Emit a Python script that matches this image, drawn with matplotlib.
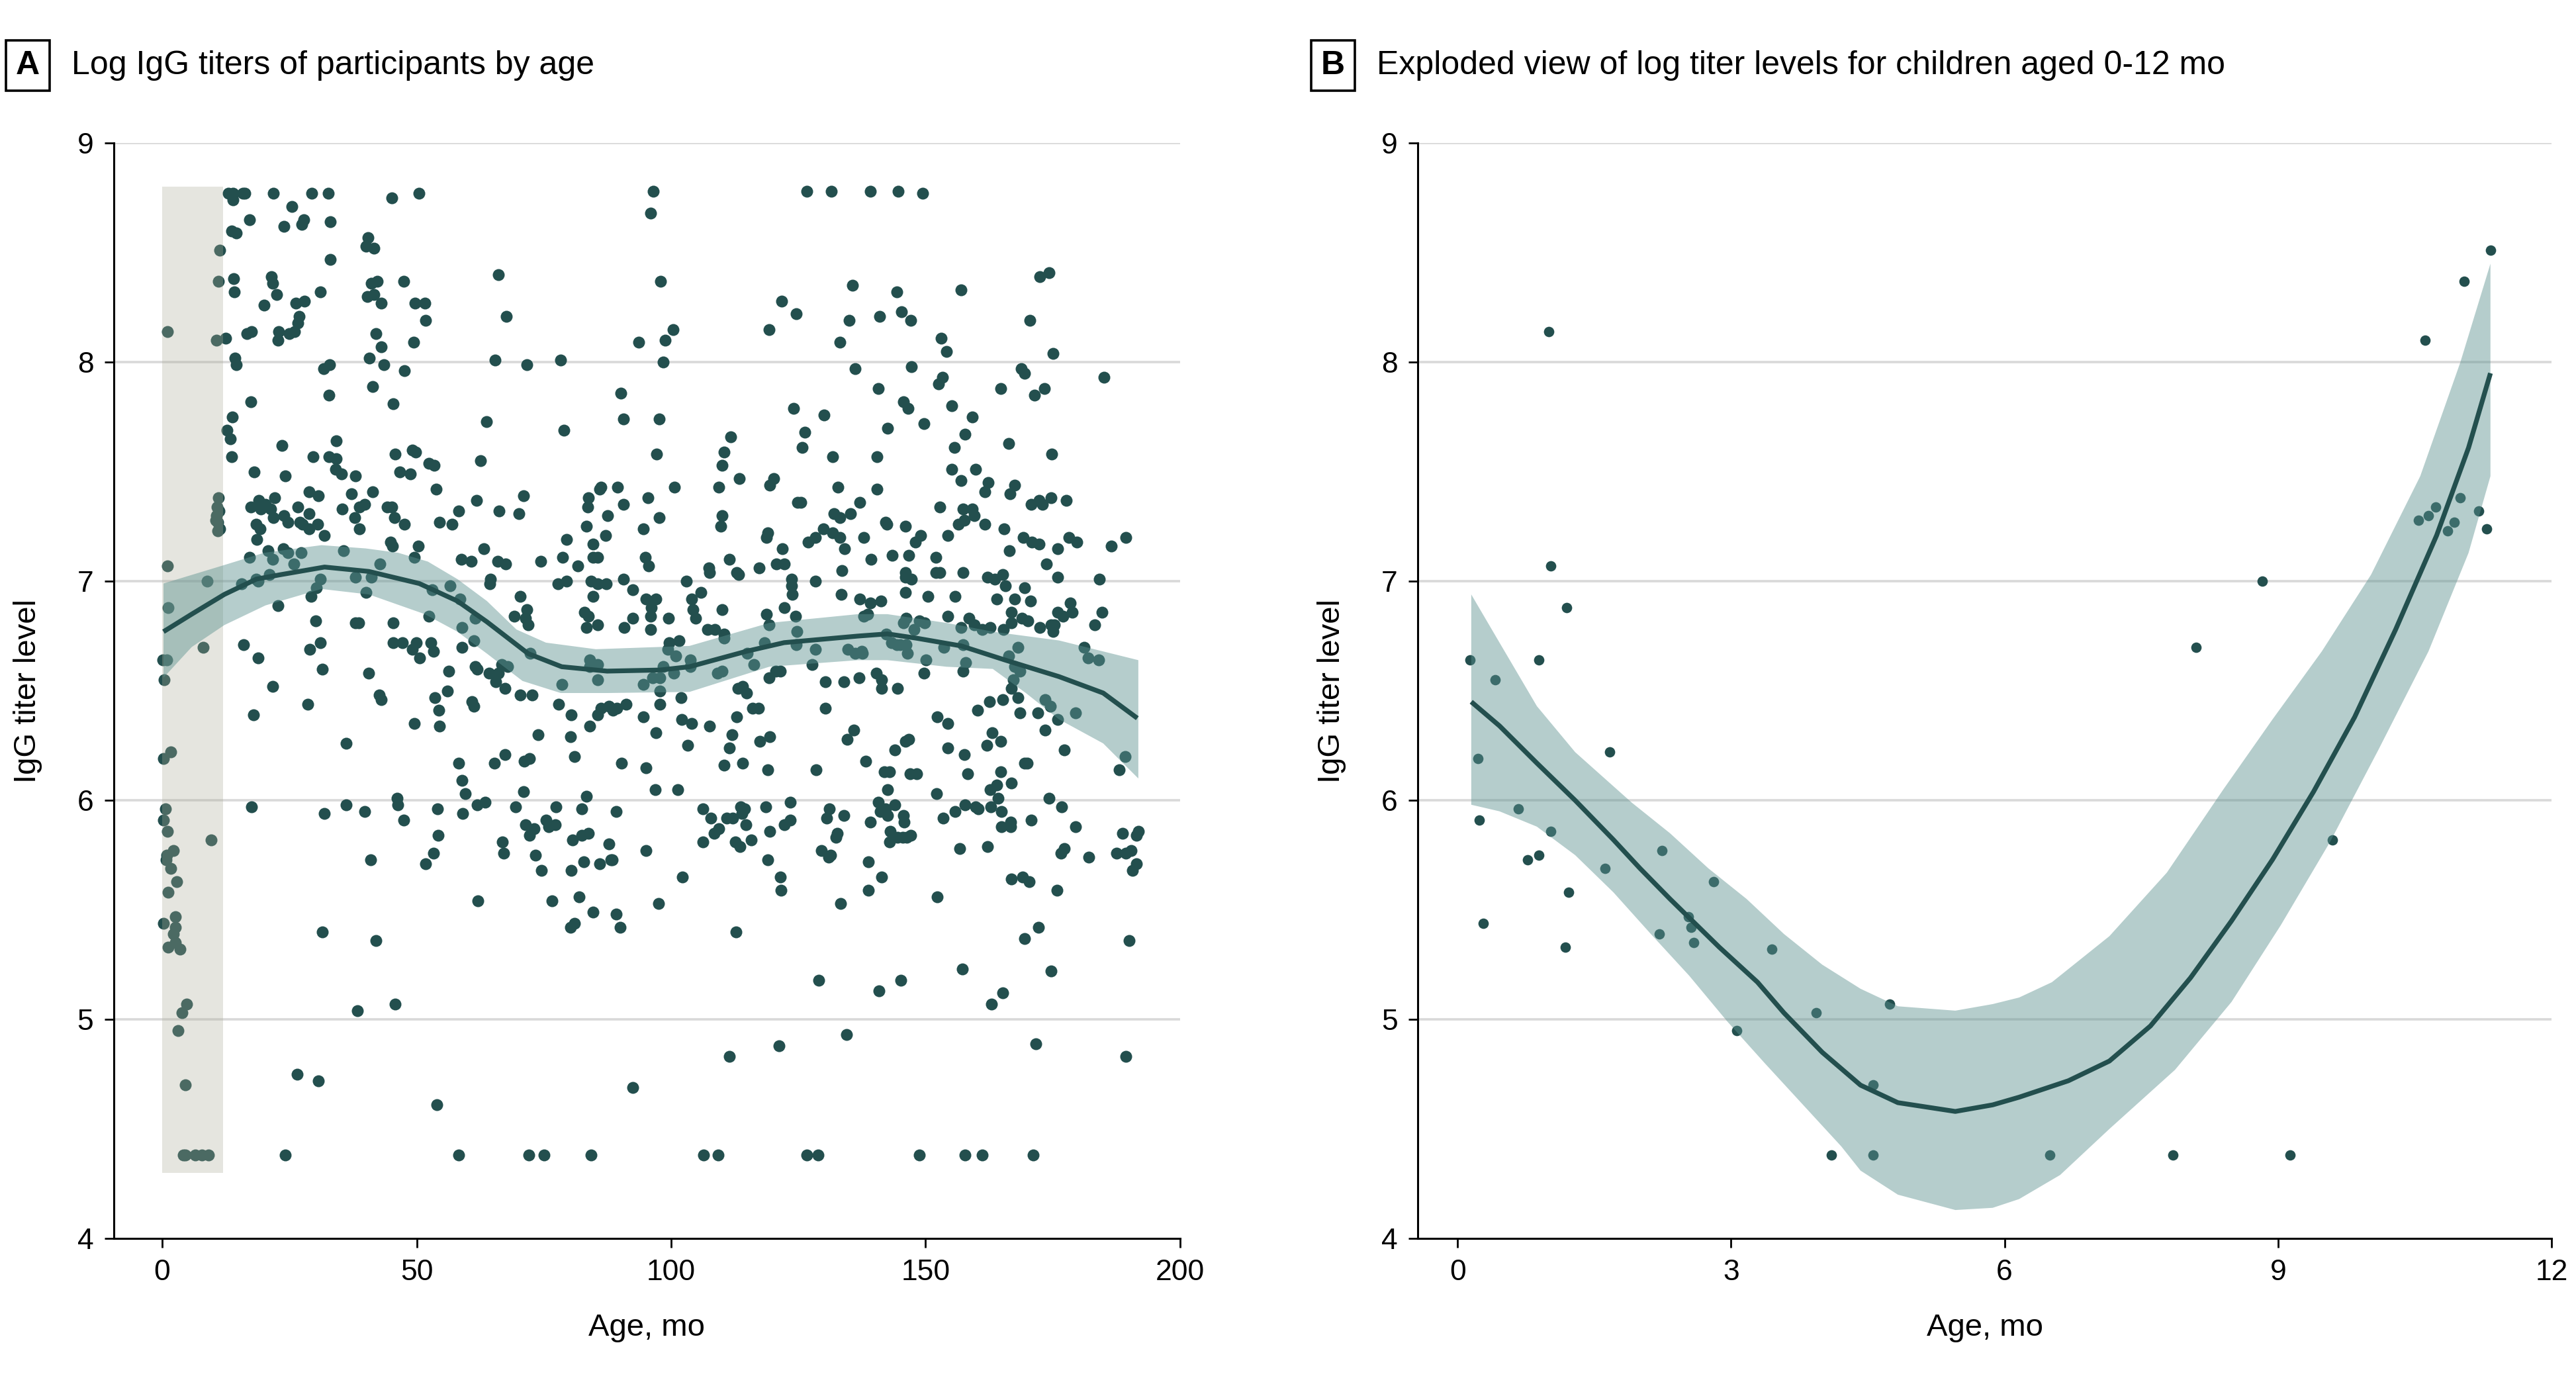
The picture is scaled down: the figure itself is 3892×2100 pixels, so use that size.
import numpy as np
import matplotlib
matplotlib.use('Agg')
import matplotlib.pyplot as plt

plt.rcParams['font.family'] = ['Liberation Sans Narrow', 'Liberation Sans', 'DejaVu Sans']

DOT = '#234f4e'
RIBBON = '#5b918f'
BAND = '#aaaa96'
GRID = '#d9d9d9'

# infants 0-12 mo (panel B, also the shaded strip of panel A)
infant_age = [0.14, 0.22, 0.24, 0.28, 0.41, 0.67, 0.77, 0.89, 0.89, 1.0, 1.02, 1.02,
              1.2, 1.22, 1.18, 1.62, 1.67, 2.24, 2.21, 2.53, 2.56, 2.59, 2.81, 3.06,
              3.45, 3.93, 4.1, 4.56, 4.56, 4.74, 6.5, 7.85, 8.1, 8.83, 9.13, 9.6,
              10.54, 10.61, 10.65, 10.73, 10.86, 10.93, 11.0, 11.04, 11.2, 11.29, 11.33]
infant_titer = [6.64, 6.19, 5.91, 5.44, 6.55, 5.96, 5.73, 6.64, 5.75, 8.14, 7.07, 5.86,
                6.88, 5.58, 5.33, 5.69, 6.22, 5.77, 5.39, 5.47, 5.42, 5.35, 5.63, 4.95,
                5.32, 5.03, 4.38, 4.70, 4.38, 5.07, 4.38, 4.38, 6.70, 7.00, 4.38, 5.82,
                7.28, 8.10, 7.30, 7.34, 7.23, 7.27, 7.38, 8.37, 7.32, 7.24, 8.51]

# older children, 12-85 mo, upper half
young_hi_age = [12.5, 13.0, 13.9, 15.9, 16.2, 21.8, 29.4, 32.6, 50.4, 13.9, 45.1, 25.5,
                17.1, 23.9, 27.4, 27.8, 33.0, 13.65, 14.5, 40.4, 40.0, 41.6, 33.0, 66.1,
                14.0, 14.2, 21.4, 21.7, 22.5, 20.0, 26.3, 27.9, 31.1, 41.1, 42.2, 40.3,
                41.6, 43.1, 47.4, 49.7, 51.6, 51.7, 67.6, 26.9, 26.7, 26.0, 24.9, 16.7,
                17.5, 22.9, 22.7, 42.0, 43.0, 49.4, 14.35, 14.6, 40.7, 43.6, 31.7, 32.9,
                47.6, 65.4, 71.7, 78.3, 41.35, 32.8, 45.4, 17.4, 13.8, 12.8, 13.4, 13.65,
                63.75, 78.9, 23.5, 34.2, 29.6, 32.75, 34.2, 34.0, 35.25, 38.0, 45.8, 49.1,
                49.8, 46.7, 48.8, 52.4, 53.4, 62.5, 18.1, 24.2, 37.2, 41.4, 53.8, 28.9,
                30.7, 17.4, 19.0, 19.4, 20.3, 21.3, 22.1, 26.7, 35.3, 38.7, 39.8, 44.2,
                45.1, 45.6, 61.8, 70.95, 83.8, 21.8, 23.9, 24.7, 28.9, 27.1, 27.6, 30.55,
                28.9, 18.5, 19.2, 18.6, 31.8, 37.9, 38.7, 47.6, 54.5, 56.9, 58.2, 66.25,
                70.1, 83.4, 44.8, 45.2, 50.35, 49.6, 63.2, 79.4, 17.1, 20.85, 21.7, 23.75,
                24.7, 27.3, 25.85, 35.65, 42.8, 58.8, 60.7, 65.9, 67.5, 74.4, 78.7, 81.7,
                83.6, 84.6, 84.6]
young_hi_titer = [8.11, 8.77, 8.77, 8.77, 8.77, 8.77, 8.77, 8.77, 8.77, 8.74, 8.75, 8.71,
                  8.65, 8.62, 8.63, 8.65, 8.64, 8.60, 8.59, 8.57, 8.53, 8.52, 8.47, 8.40,
                  8.38, 8.32, 8.39, 8.36, 8.31, 8.26, 8.27, 8.28, 8.32, 8.36, 8.37, 8.30,
                  8.31, 8.27, 8.37, 8.27, 8.27, 8.19, 8.21, 8.21, 8.18, 8.14, 8.13, 8.13,
                  8.14, 8.14, 8.10, 8.13, 8.07, 8.09, 8.02, 7.99, 8.02, 7.99, 7.97, 7.99,
                  7.96, 8.01, 7.99, 8.01, 7.89, 7.85, 7.81, 7.82, 7.75, 7.69, 7.65, 7.57,
                  7.73, 7.69, 7.62, 7.64, 7.57, 7.57, 7.56, 7.51, 7.49, 7.48, 7.58, 7.60,
                  7.59, 7.50, 7.49, 7.54, 7.53, 7.55, 7.50, 7.48, 7.40, 7.41, 7.42, 7.41,
                  7.39, 7.34, 7.37, 7.33, 7.35, 7.33, 7.38, 7.34, 7.33, 7.34, 7.35, 7.34,
                  7.34, 7.29, 7.37, 7.39, 7.38, 7.29, 7.30, 7.27, 7.31, 7.27, 7.26, 7.26,
                  7.24, 7.26, 7.24, 7.19, 7.21, 7.29, 7.24, 7.26, 7.27, 7.26, 7.32, 7.32,
                  7.31, 7.25, 7.18, 7.16, 7.16, 7.11, 7.15, 7.19, 7.11, 7.14, 7.10, 7.15,
                  7.13, 7.13, 7.08, 7.14, 7.08, 7.10, 7.09, 7.09, 7.08, 7.09, 7.11, 7.07,
                  7.34, 7.17, 7.11]

# older children, 12-85 mo, lower half
young_lo_age = [15.6, 18.4, 18.9, 21.1, 22.8, 31.1, 30.3, 29.3, 30.2, 38.0, 38.6, 38.0,
                41.1, 40.1, 53.1, 56.5, 58.5, 52.4, 58.9, 61.5, 58.9, 61.3, 64.5, 64.4,
                70.4, 71.7, 71.4, 71.9, 69.2, 72.3, 77.7, 79.5, 83.0, 83.8, 83.3, 84.2,
                84.6, 45.35, 16.0, 18.8, 21.7, 29.0, 31.1, 31.4, 28.6, 17.9, 40.6, 42.7,
                43.0, 45.35, 47.15, 49.2, 49.9, 50.6, 52.8, 53.25, 56.3, 56.1, 53.6, 54.3,
                54.5, 49.5, 61.55, 61.9, 60.9, 61.3, 64.3, 65.55, 66.1, 66.7, 67.9, 67.3,
                70.4, 72.7, 77.9, 80.3, 78.6, 84.0, 84.0, 84.0, 73.8, 80.2, 81.0, 36.1,
                58.2, 58.9, 59.6, 65.3, 67.4, 71.1, 72.2, 70.95, 83.4, 17.5, 36.1, 31.8,
                39.8, 46.1, 46.3, 47.4, 54.1, 54.2, 59.05, 61.95, 63.4, 69.4, 71.4, 72.2,
                73.1, 75.4, 75.9, 77.3, 77.4, 82.4, 80.6, 82.4, 83.8, 66.8, 67.1, 53.3,
                51.7, 40.9, 73.4, 74.5, 80.3, 82.85, 62.0, 76.6, 81.9, 81.05, 80.2, 84.6,
                31.4, 42.0, 38.4, 45.75, 26.5, 30.7, 54.0]
young_lo_titer = [6.99, 7.01, 7.00, 7.03, 6.89, 7.01, 6.97, 6.93, 6.82, 6.81, 6.81, 7.02,
                  7.02, 6.95, 6.96, 6.98, 6.92, 6.84, 6.79, 6.83, 6.70, 6.73, 7.01, 6.99,
                  6.93, 6.87, 6.83, 6.80, 6.84, 6.67, 6.99, 7.00, 6.86, 6.84, 6.79, 7.00,
                  6.93, 6.81, 6.71, 6.65, 6.52, 6.69, 6.72, 6.60, 6.44, 6.39, 6.58, 6.48,
                  6.46, 6.72, 6.72, 6.69, 6.72, 6.65, 6.72, 6.68, 6.59, 6.50, 6.47, 6.41,
                  6.34, 6.35, 6.61, 6.60, 6.45, 6.43, 6.58, 6.54, 6.58, 6.62, 6.61, 6.51,
                  6.48, 6.48, 6.44, 6.39, 6.53, 6.64, 6.61, 6.34, 6.30, 6.29, 6.20, 6.26,
                  6.17, 6.09, 6.03, 6.17, 6.21, 6.18, 6.19, 6.04, 6.02, 5.97, 5.98, 5.94,
                  5.95, 6.01, 5.98, 5.91, 5.96, 5.84, 5.94, 5.98, 5.99, 5.97, 5.89, 5.84,
                  5.87, 5.91, 5.88, 5.89, 5.97, 5.96, 5.82, 5.84, 5.85, 5.81, 5.76, 5.76,
                  5.71, 5.73, 5.75, 5.68, 5.68, 5.72, 5.54, 5.54, 5.56, 5.44, 5.42, 5.49,
                  5.40, 5.36, 5.04, 5.07, 4.75, 4.72, 4.61]

# 85-170 mo, titer above 6
mid_hi_age = [96.5, 96.0, 126.7, 131.5, 139.2, 144.6, 149.4, 97.9, 135.6, 144.3, 121.7, 124.6,
              141.0, 145.3, 147.1, 157.0, 135.0, 119.2, 100.4, 98.8, 93.65, 133.2, 153.0, 154.1,
              98.5, 136.2, 147.2, 168.8, 169.5, 152.6, 153.3, 140.7, 164.8, 90.1, 145.7, 146.6,
              124.0, 90.7, 97.6, 130.1, 155.2, 159.2, 149.7, 142.5, 126.3, 111.7, 157.7, 97.1,
              110.4, 125.8, 166.3, 140.4, 131.7, 155.6, 110.0, 155.1, 159.8, 113.4, 120.1, 109.4,
              119.4, 100.6, 89.5, 86.2, 86.0, 132.8, 140.5, 157.0, 162.3, 161.6, 167.5, 166.6,
              90.7, 95.4, 87.55, 97.7, 152.8, 110.0, 109.8, 137.0, 124.8, 125.5, 157.3, 157.6,
              159.2, 159.6, 156.5, 132.0, 133.2, 135.2, 142.1, 142.4, 146.1, 161.6, 165.4, 94.6,
              87.15, 129.9, 131.7, 133.2, 137.9, 154.4, 149.0, 148.0, 118.7, 119.0, 128.3, 126.9,
              121.9, 111.5, 134.1, 166.4, 146.7, 139.3, 143.5, 152.0, 169.2, 85.6, 94.9, 95.6,
              107.35, 107.5, 112.9, 113.3, 117.3, 120.7, 122.3, 133.6, 146.1, 146.0, 147.2, 152.0,
              152.8, 157.4, 162.1, 85.6, 87.3, 92.4, 90.7, 103.0, 123.7, 123.7, 123.8, 128.4,
              133.4, 146.0, 150.5, 155.8, 163.6, 165.1, 164.0, 165.7, 167.5, 169.5, 137.1, 139.2,
              141.2, 104.0, 104.3, 104.8, 105.8, 85.5, 90.8, 92.4, 95.1, 96.1, 96.0, 96.0,
              97.0, 99.45, 110.0, 107.1, 108.6, 118.7, 119.2, 110.4, 110.4, 122.2, 124.5, 124.7,
              137.9, 138.6, 145.6, 146.2, 147.7, 148.8, 149.8, 154.3, 157.0, 158.5, 159.5, 161.1,
              162.7, 165.3, 166.8, 166.9, 168.9, 168.1, 99.6, 101.5, 118.3, 142.3, 143.3, 144.3,
              145.0, 146.2, 146.4, 134.7, 136.1, 137.4, 137.6, 153.6, 157.4, 157.85, 128.3, 124.6,
              85.6, 85.6, 99.3, 100.9, 98.5, 103.75, 103.75, 115.0, 116.3, 94.6, 96.3, 97.8,
              100.5, 97.8, 101.9, 109.1, 110.0, 120.5, 121.5, 119.3, 127.7, 166.3, 167.5, 167.2,
              168.6, 157.3, 150.1, 149.7, 140.3, 141.3, 141.4, 130.3, 133.9, 136.9, 144.5, 166.8,
              168.1, 168.5, 162.5, 165.1, 160.2, 97.8, 88.5, 89.4, 87.8, 91.2, 86.2, 85.5,
              90.2, 113.1, 114.1, 114.8, 112.9, 116.0, 117.2, 107.5, 102.1, 104.0, 94.6, 97.0,
              103.2, 101.3, 95.0, 96.9, 110.4, 111.9, 111.4, 114.1, 119.4, 117.4, 119.0, 130.3,
              128.5, 134.6, 135.9, 138.2, 144.0, 146.0, 146.7, 152.3, 154.4, 154.4, 157.6, 158.3,
              163.1, 162.0, 164.8, 169.4, 141.9, 142.9, 142.5, 146.9, 148.2, 164.8, 164.0, 162.7,
              166.9, 152.2]
mid_hi_titer = [8.78, 8.68, 8.78, 8.78, 8.78, 8.78, 8.77, 8.37, 8.35, 8.32, 8.28, 8.22,
                8.21, 8.23, 8.19, 8.33, 8.19, 8.15, 8.15, 8.10, 8.09, 8.09, 8.11, 8.05,
                8.00, 7.97, 7.98, 7.97, 7.95, 7.90, 7.93, 7.88, 7.88, 7.86, 7.82, 7.79,
                7.79, 7.74, 7.74, 7.76, 7.80, 7.75, 7.72, 7.70, 7.68, 7.66, 7.67, 7.58,
                7.59, 7.61, 7.63, 7.57, 7.57, 7.61, 7.53, 7.51, 7.51, 7.47, 7.47, 7.43,
                7.44, 7.43, 7.43, 7.43, 7.42, 7.43, 7.42, 7.46, 7.45, 7.41, 7.44, 7.40,
                7.35, 7.38, 7.30, 7.29, 7.34, 7.30, 7.25, 7.36, 7.36, 7.36, 7.33, 7.28,
                7.33, 7.30, 7.26, 7.31, 7.29, 7.31, 7.27, 7.26, 7.25, 7.26, 7.24, 7.24,
                7.21, 7.24, 7.22, 7.20, 7.20, 7.21, 7.21, 7.18, 7.20, 7.22, 7.20, 7.18,
                7.15, 7.10, 7.15, 7.14, 7.12, 7.10, 7.12, 7.11, 7.20, 7.11, 7.11, 7.07,
                7.06, 7.04, 7.04, 7.03, 7.06, 7.08, 7.08, 7.05, 7.04, 7.02, 7.01, 7.04,
                7.04, 7.04, 7.02, 6.99, 6.99, 6.96, 7.01, 7.00, 7.01, 6.98, 6.94, 7.00,
                6.94, 6.95, 6.93, 6.93, 7.01, 7.03, 6.92, 6.98, 6.92, 6.97, 6.92, 6.90,
                6.91, 6.92, 6.87, 6.83, 6.95, 6.80, 6.79, 6.83, 6.92, 6.88, 6.84, 6.78,
                6.92, 6.83, 6.87, 6.78, 6.78, 6.85, 6.80, 6.76, 6.74, 6.88, 6.84, 6.77,
                6.84, 6.85, 6.81, 6.83, 6.78, 6.82, 6.81, 6.84, 6.79, 6.83, 6.80, 6.78,
                6.79, 6.78, 6.81, 6.86, 6.83, 6.70, 6.72, 6.73, 6.72, 6.76, 6.72, 6.71,
                6.71, 6.71, 6.67, 6.69, 6.67, 6.68, 6.67, 6.70, 6.71, 6.63, 6.69, 6.71,
                6.62, 6.55, 6.69, 6.66, 6.61, 6.64, 6.61, 6.67, 6.62, 6.53, 6.56, 6.56,
                6.58, 6.50, 6.47, 6.58, 6.59, 6.59, 6.59, 6.56, 6.62, 6.66, 6.61, 6.55,
                6.59, 6.59, 6.64, 6.58, 6.58, 6.55, 6.51, 6.54, 6.54, 6.56, 6.51, 6.51,
                6.47, 6.40, 6.45, 6.46, 6.41, 6.44, 6.41, 6.42, 6.43, 6.44, 6.42, 6.39,
                6.17, 6.51, 6.52, 6.49, 6.38, 6.42, 6.42, 6.34, 6.37, 6.35, 6.38, 6.31,
                6.25, 6.05, 6.15, 6.05, 6.16, 6.30, 6.24, 6.17, 6.29, 6.27, 6.14, 6.42,
                6.14, 6.28, 6.32, 6.18, 6.23, 6.27, 6.28, 6.38, 6.35, 6.24, 6.21, 6.12,
                6.31, 6.25, 6.27, 6.17, 6.13, 6.13, 6.05, 6.12, 6.12, 6.13, 6.07, 6.05,
                6.08, 6.03]

# 85-170 mo, titer below 6
mid_lo_age = [89.2, 86.0, 87.8, 88.2, 88.4, 89.2, 90.05, 95.05, 97.5, 102.2, 106.3, 107.75,
              108.4, 109.4, 106.2, 110.9, 112.05, 113.7, 114.5, 113.9, 114.7, 112.6, 113.5, 115.8,
              118.6, 119.4, 119.0, 123.4, 122.2, 123.4, 121.5, 121.6, 112.8, 92.4, 111.5, 121.2,
              134.5, 129.0, 131.1, 130.5, 133.9, 132.7, 132.4, 131.4, 131.0, 129.5, 133.3, 139.2,
              138.7, 138.8, 141.4, 140.7, 141.1, 142.2, 142.5, 143.0, 142.9, 144.0, 145.6, 145.8,
              145.5, 144.5, 146.3, 147.1, 140.9, 145.1, 152.3, 153.4, 155.8, 156.7, 157.2, 157.7,
              159.8, 160.4, 162.1, 162.8, 164.3, 164.9, 164.9, 166.7, 166.7, 163.0, 165.2, 166.8,
              169.0, 169.4]
mid_lo_titer = [5.95, 5.71, 5.80, 5.73, 5.73, 5.48, 5.42, 5.77, 5.53, 5.65, 5.96, 5.92,
                5.85, 5.87, 5.81, 5.92, 5.92, 5.97, 5.96, 5.94, 5.89, 5.81, 5.79, 5.82,
                5.97, 5.86, 5.73, 5.99, 5.89, 5.91, 5.65, 5.59, 5.40, 4.69, 4.83, 4.88,
                4.93, 5.18, 5.96, 5.92, 5.93, 5.85, 5.83, 5.75, 5.74, 5.77, 5.53, 5.90,
                5.72, 5.59, 5.65, 5.99, 5.95, 5.96, 5.93, 5.86, 5.81, 5.98, 5.93, 5.90,
                5.83, 5.83, 5.83, 5.84, 5.13, 5.18, 5.56, 5.92, 5.95, 5.78, 5.23, 5.98,
                5.97, 5.96, 5.79, 5.97, 6.01, 5.95, 5.88, 5.90, 5.88, 5.07, 5.12, 5.64,
                5.65, 5.37]

# oldest, over 170 mo
old_age = [172.4, 174.3, 170.5, 175.1, 171.4, 173.4, 185.1, 174.8, 170.8, 172.3, 173.0, 174.6,
           177.7, 170.9, 172.3, 175.9, 178.1, 179.7, 186.5, 189.4, 173.7, 175.9, 184.2, 170.6,
           178.4, 178.8, 175.9, 177.0, 183.2, 184.7, 170.1, 172.5, 174.7, 175.3, 175.1, 181.1,
           181.9, 184.0, 173.5, 174.5, 172.1, 176.0, 173.5, 179.5, 177.2, 170.0, 189.2, 188.0,
           174.3, 176.7, 170.7, 179.5, 188.7, 191.4, 191.8, 182.1, 187.5, 189.4, 190.4, 176.6,
           177.3, 190.6, 191.4, 170.4, 175.8, 172.2, 190.0, 174.7, 171.7, 189.3]
old_titer = [8.39, 8.41, 8.19, 8.04, 7.85, 7.88, 7.93, 7.58, 7.35, 7.37, 7.35, 7.38,
             7.37, 7.18, 7.17, 7.15, 7.20, 7.18, 7.16, 7.20, 7.08, 7.02, 7.01, 6.91,
             6.90, 6.86, 6.86, 6.84, 6.80, 6.86, 6.82, 6.79, 6.80, 6.80, 6.77, 6.70,
             6.65, 6.64, 6.46, 6.43, 6.40, 6.37, 6.32, 6.40, 6.23, 6.17, 6.20, 6.14,
             6.01, 5.97, 5.91, 5.88, 5.85, 5.84, 5.86, 5.74, 5.76, 5.76, 5.77, 5.76,
             5.78, 5.68, 5.71, 5.63, 5.59, 5.42, 5.36, 5.22, 4.89, 4.83]

# children sitting on the assay floor
floor_age = [24.2, 58.3, 72.0, 75.0, 84.3, 106.4, 109.2, 126.6, 128.9, 148.8, 157.8, 161.1, 171.2]
floor_titer = [4.38] * len(floor_age)

# smoother for panel A
a_fit_age = [0.25, 5.8, 12.2, 18.5, 23.2, 31.9, 40.6, 50.5, 58.0, 63.8, 71.9, 78.5, 87.4,
             97.8, 103.6, 114.7, 122.2, 136.7, 142.5, 148.3, 157.0, 165.7, 176.2, 184.9, 191.6]
a_fit = [6.77, 6.85, 6.94, 7.01, 7.03, 7.065, 7.045, 6.99, 6.91, 6.815, 6.67, 6.61, 6.59,
         6.595, 6.61, 6.68, 6.72, 6.75, 6.76, 6.74, 6.705, 6.64, 6.565, 6.49, 6.375]
a_hi_age = [0.25, 11.6, 20.0, 31.3, 40.0, 46.4, 52.2, 58.0, 63.8, 69.6, 75.4, 85.2, 103.6,
            119.3, 136.7, 142.5, 154.1, 163.2, 169.7, 176.2, 191.8]
a_hi = [6.99, 7.07, 7.13, 7.165, 7.15, 7.13, 7.09, 7.01, 6.91, 6.78, 6.72, 6.69, 6.705,
        6.81, 6.85, 6.85, 6.81, 6.77, 6.75, 6.73, 6.64]
a_lo_age = [0.25, 5.8, 12.2, 20.3, 31.3, 40.6, 51.6, 58.0, 63.8, 70.8, 78.3, 87.4, 103.6,
            119.3, 136.7, 142.5, 154.1, 163.2, 169.7, 176.2, 184.9, 191.8]
a_lo = [6.56, 6.70, 6.80, 6.89, 6.965, 6.94, 6.85, 6.77, 6.67, 6.545, 6.49, 6.49, 6.495,
        6.61, 6.64, 6.64, 6.61, 6.60, 6.49, 6.37, 6.26, 6.10]

# smoother for panel B
b_fit_age = [0.15, 0.46, 0.87, 1.29, 1.71, 2.0, 2.33, 2.87, 3.29, 3.58, 4.0, 4.42, 4.83,
             5.46, 5.87, 6.16, 6.7, 7.15, 7.6, 8.04, 8.49, 8.94, 9.39, 9.84, 10.29, 10.74,
             11.09, 11.33]
b_fit = [6.45, 6.34, 6.17, 6.0, 5.82, 5.69, 5.55, 5.33, 5.17, 5.03, 4.85, 4.70, 4.62,
         4.58, 4.61, 4.645, 4.72, 4.81, 4.97, 5.19, 5.45, 5.73, 6.04, 6.38, 6.78, 7.21,
         7.61, 7.95]
b_hi_age = [0.15, 0.46, 0.87, 1.29, 1.91, 2.33, 2.75, 3.17, 3.58, 4.0, 4.42, 4.83, 5.46,
            5.87, 6.16, 6.52, 7.15, 7.78, 8.4, 8.94, 9.48, 10.02, 10.56, 11.0, 11.33]
b_hi = [6.94, 6.72, 6.43, 6.22, 5.99, 5.85, 5.69, 5.55, 5.39, 5.25, 5.14, 5.06, 5.04,
        5.07, 5.10, 5.17, 5.38, 5.67, 6.05, 6.37, 6.68, 7.03, 7.48, 8.0, 8.45]
b_lo_age = [0.15, 0.46, 0.87, 1.29, 1.71, 2.12, 2.54, 2.96, 3.37, 3.79, 4.21, 4.42, 4.83,
            5.46, 5.87, 6.16, 6.61, 7.15, 7.87, 8.49, 9.03, 9.57, 10.1, 10.65, 11.09, 11.33]
b_lo = [5.98, 5.95, 5.88, 5.75, 5.58, 5.39, 5.20, 4.99, 4.80, 4.61, 4.42, 4.31, 4.20,
        4.13, 4.14, 4.18, 4.29, 4.50, 4.77, 5.08, 5.43, 5.81, 6.23, 6.68, 7.13, 7.48]

all_age = infant_age + young_hi_age + young_lo_age + mid_hi_age + mid_lo_age + old_age + floor_age
all_titer = infant_titer + young_hi_titer + young_lo_titer + mid_hi_titer + mid_lo_titer + old_titer + floor_titer

infant_window = (0, 12, 4.3, 8.8)


def style_axes(ax, xlim, xticks):
    ax.set_xlim(*xlim)
    ax.set_ylim(4, 9)
    ax.set_xticks(xticks)
    ax.set_yticks([4, 5, 6, 7, 8, 9])
    for y in [5, 6, 7, 8, 9]:
        ax.axhline(y, color=GRID, lw=1.3, zorder=0)
    ax.spines['top'].set_visible(False)
    ax.spines['right'].set_visible(False)
    ax.spines['left'].set_linewidth(1.1)
    ax.spines['bottom'].set_linewidth(1.1)
    ax.tick_params(direction='out', length=5, width=1, labelsize=16, pad=6)
    ax.set_ylabel('IgG titer level', fontsize=17, labelpad=19)
    ax.set_xlabel('Age, mo', fontsize=17, labelpad=15)


def panel_title(x, letter, text):
    fig.text(x, 0.953, letter, fontsize=18, fontweight='bold', ha='center', va='center',
             bbox=dict(boxstyle='square,pad=0.3', fc='white', ec='black', lw=1.3))
    fig.text(x + 0.017, 0.953, text, fontsize=18, ha='left', va='center')


fig = plt.figure(figsize=(19.46, 10.5), dpi=200)
axA = fig.add_axes([0.0442, 0.109, 0.4139, 0.788])
axB = fig.add_axes([0.5504, 0.109, 0.4401, 0.788])

# panel A
axA.scatter(all_age, all_titer, s=42, color=DOT, lw=0, zorder=2)
x0, x1, y0, y1 = infant_window
axA.fill_between([x0, x1], y0, y1, color=BAND, alpha=0.3, lw=0, zorder=3)
axA.fill(a_hi_age + a_lo_age[::-1], a_hi + a_lo[::-1], color=RIBBON, alpha=0.45, lw=0, zorder=4)
axA.plot(a_fit_age, a_fit, color=DOT, lw=2.6, zorder=5, solid_capstyle='butt')
style_axes(axA, (-9.5, 200), [0, 50, 100, 150, 200])

# panel B
axB.scatter(infant_age, infant_titer, s=32, color=DOT, lw=0, zorder=2)
axB.fill(b_hi_age + b_lo_age[::-1], b_hi + b_lo[::-1], color=RIBBON, alpha=0.45, lw=0, zorder=4)
axB.plot(b_fit_age, b_fit, color=DOT, lw=2.6, zorder=5, solid_capstyle='butt')
style_axes(axB, (-0.436, 12), [0, 3, 6, 9, 12])

panel_title(0.0108, 'A', 'Log IgG titers of participants by age')
panel_title(0.5174, 'B', 'Exploded view of log titer levels for children aged 0-12 mo')

fig.savefig('out.png', dpi=200, facecolor='white')
